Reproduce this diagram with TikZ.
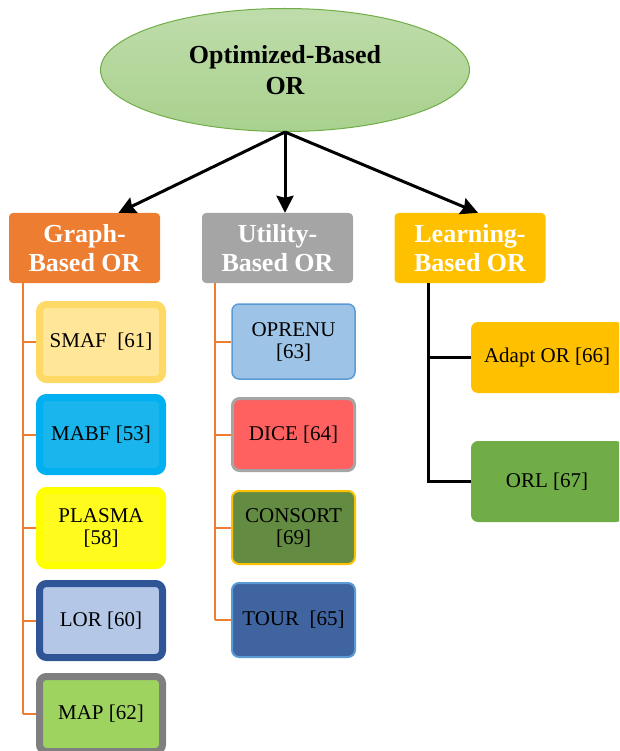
\documentclass[tikz,border=0pt]{standalone}
\usepackage{fontspec}
\setmainfont{Liberation Serif}
\usetikzlibrary{shapes.geometric,arrows.meta,calc}
\definecolor{ellfill}{HTML}{A9D18E}
\definecolor{ellline}{HTML}{70AD47}
\definecolor{graphc}{HTML}{ED7D31}
\definecolor{utilc}{HTML}{A5A5A5}
\definecolor{learnc}{HTML}{FFC000}
\definecolor{orlc}{HTML}{70AD47}

\begin{document}
\begin{tikzpicture}[x=1pt,y=-1pt,
  head/.style={rectangle, rounded corners=4pt, minimum width=151, minimum height=70,
    inner sep=0pt, text=white, align=center, font=\fontsize{26}{29}\selectfont\bfseries},
  leaf/.style={rectangle, rounded corners=7pt, inner sep=0pt, align=center,
    font=\fontsize{21}{22}\selectfont},
  arr/.style={line width=3pt, -{Stealth[length=17pt,width=17pt,inset=2pt]}},
  orline/.style={draw=graphc, line width=2pt},
  blkline/.style={line width=3pt}]

\useasboundingbox (0,0) rectangle (619,751);
\clip (0,0) rectangle (619,751);

% root
\node[ellipse, minimum width=369, minimum height=123, draw=ellline, line width=1pt,
  top color=ellfill!75!white, bottom color=ellfill, align=center,
  font=\fontsize{26}{31}\selectfont\bfseries] (root) at (285,70) {Optimized-Based\\OR};

% categories
\node[head, fill=graphc]   (graph)   at (84.5,248) {Graph-\\Based OR};
\node[head, fill=utilc]    (utility) at (277.5,248) {Utility-\\Based OR};
\node[head, fill=learnc]   (learning) at (470,248) {Learning-\\Based OR};

\draw[arr] (root.south) -- ($(graph.north)+(34,0)$);
\draw[arr] (root.south) -- (root.south |- utility.north);
\draw[arr] (root.south) -- ($(learning.north)+(8,0)$);

% graph based
\node[leaf, fill={rgb,255:red,255;green,230;blue,153},
  draw={rgb,255:red,255;green,217;blue,102}, line width=7pt,
  minimum width=123, minimum height=75] (smaf) at (101,342) {SMAF\ \ [61]};
\node[leaf, fill={rgb,255:red,25;green,181;blue,236}, draw={rgb,255:red,0;green,176;blue,240},
  line width=7pt, minimum width=123, minimum height=74] (mabf) at (101,434.5) {MABF [53]};
\node[leaf, fill={rgb,255:red,255;green,251;blue,30}, draw={rgb,255:red,255;green,255;blue,0},
  line width=7pt, minimum width=123, minimum height=75] (plasma) at (101,528) {PLASMA\\{}[58]};
\node[leaf, fill={rgb,255:red,180;green,199;blue,231}, draw={rgb,255:red,47;green,85;blue,151},
  line width=7pt, minimum width=123, minimum height=74] (lor) at (101,620.5) {LOR [60]};
\node[leaf, fill={rgb,255:red,159;green,211;blue,96}, draw={rgb,255:red,127;green,127;blue,127},
  line width=7pt, minimum width=123, minimum height=75] (map) at (101,714) {MAP [62]};

\coordinate (gt) at ($(graph.south west)+(14,0)$);
\draw[orline] (gt) -- (gt |- map.west);
\foreach \n in {smaf,mabf,plasma,lor,map}
  \draw[orline] (gt |- \n.west) -- (\n.west);

% utility based
\node[leaf, fill={rgb,255:red,157;green,195;blue,230}, draw={rgb,255:red,91;green,155;blue,213},
  line width=1.5pt, minimum width=123, minimum height=75] (oprenu) at (293.5,341.5) {OPRENU\\{}[63]};
\node[leaf, fill={rgb,255:red,255;green,97;blue,97}, draw=utilc,
  line width=3pt, minimum width=122, minimum height=72] (dice) at (293.5,434.5) {DICE [64]};
\node[leaf, fill={rgb,255:red,99;green,139;blue,66}, draw=learnc,
  line width=2pt, minimum width=123, minimum height=73] (consort) at (293.5,527.5) {CONSORT\\{}[69]};
\node[leaf, fill={rgb,255:red,64;green,100;blue,160}, draw={rgb,255:red,91;green,155;blue,213},
  line width=2pt, minimum width=123, minimum height=74] (tour) at (293.5,620) {TOUR\ \ [65]};

\coordinate (ut) at ($(utility.south west)+(13,0)$);
\draw[orline] (ut) -- (ut |- tour.west);
\foreach \n in {oprenu,dice,consort,tour}
  \draw[orline] (ut |- \n.west) -- (\n.west);

% learning based
\node[leaf, fill=learnc, minimum width=152, minimum height=71] (adapt) at (547,357.5) {Adapt OR [66]};
\node[leaf, fill=orlc, minimum width=152, minimum height=81] (orl) at (547,481.5) {ORL [67]};

\coordinate (lt) at ($(learning.south west)+(34,0)$);
\draw[blkline] (lt) -- (lt |- orl.west) -- (orl.west);
\draw[blkline] (lt |- adapt.west) -- (adapt.west);

\end{tikzpicture}
\end{document}
